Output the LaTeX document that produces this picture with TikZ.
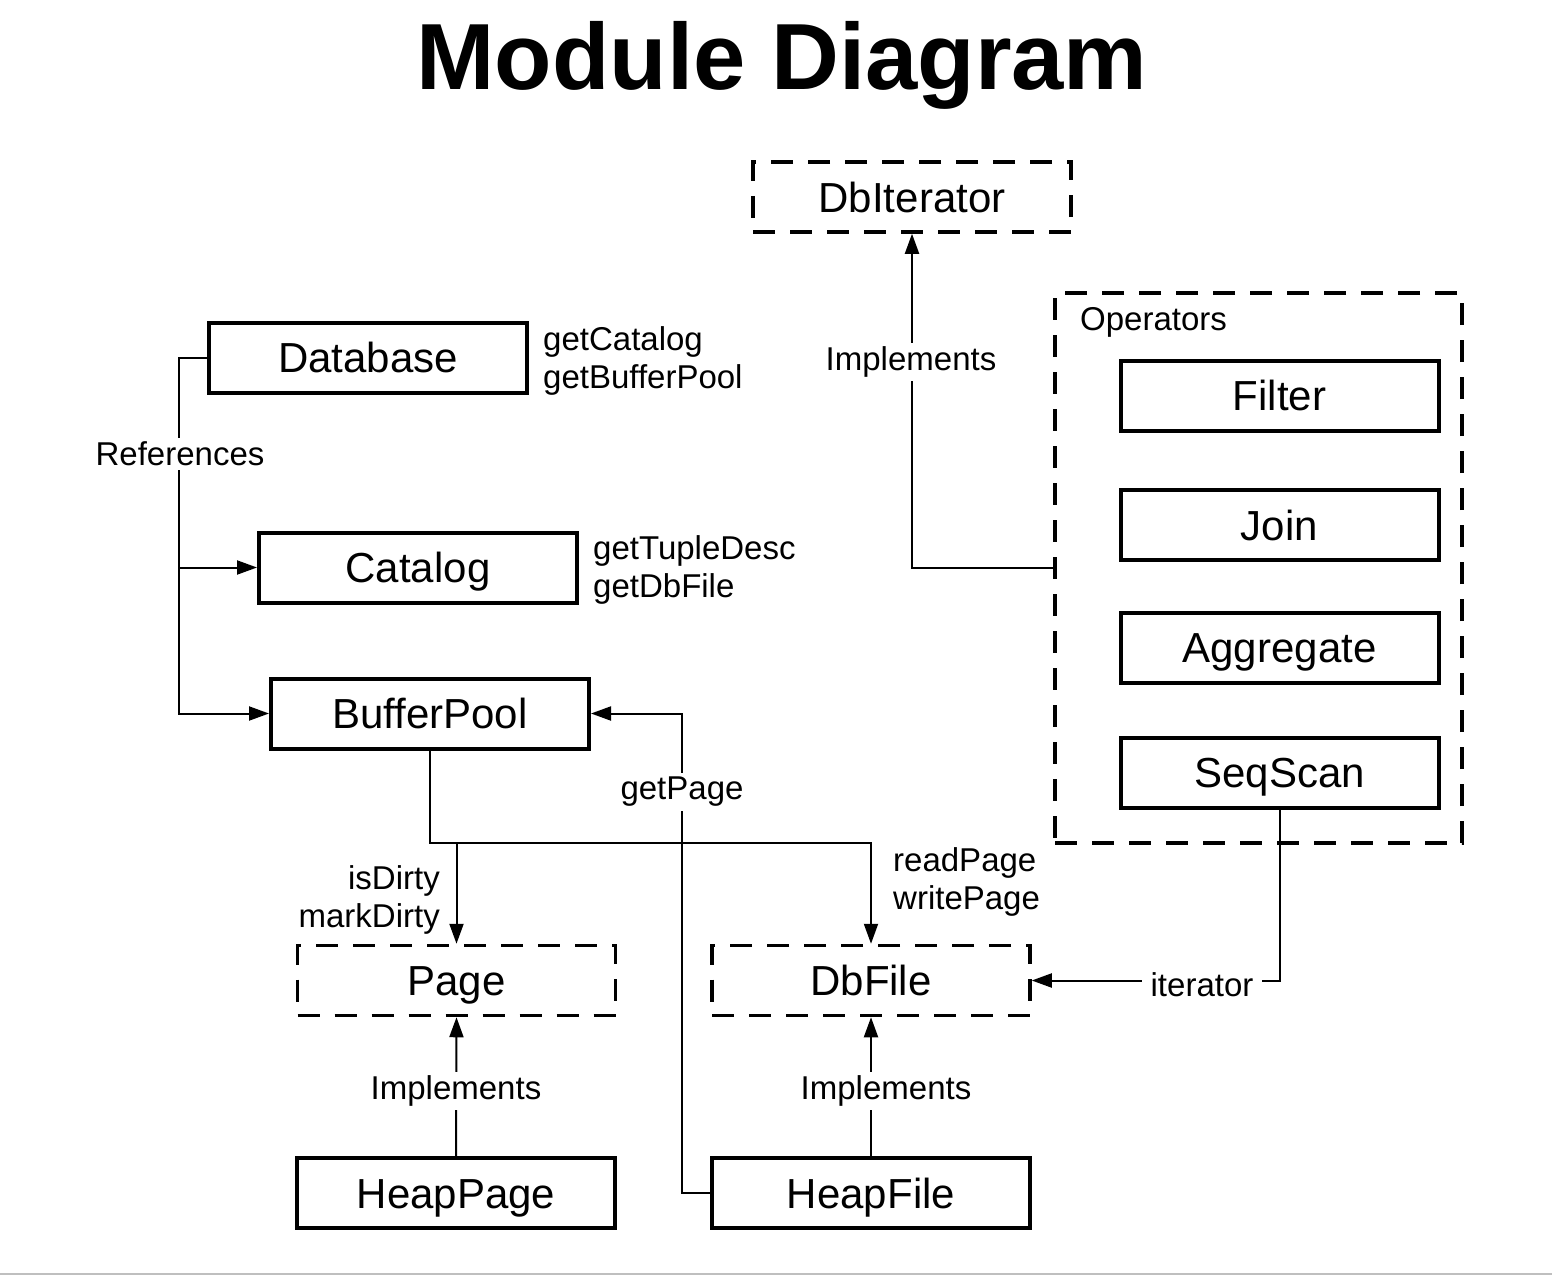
\documentclass[tikz,border=0pt]{standalone}
\usepackage{fontspec}
\setmainfont{Liberation Sans}
\usetikzlibrary{arrows.meta,calc}
\begin{document}
\begin{tikzpicture}[x=1pt,y=-1pt,
  box/.style={draw,line width=4pt,minimum width=318pt,minimum height=70pt,inner sep=0pt,text height=30pt,text depth=0pt,font=\fontsize{42}{48}\selectfont},
  dbox/.style={box,line width=3.5pt,dash pattern=on 22pt off 15pt},
  lbl/.style={font=\fontsize{33}{38}\selectfont,inner sep=0pt,yshift=-3pt},
  cut/.style={lbl,fill=white,inner sep=4pt},
  conn/.style={line width=2pt},
  arr/.style={conn,-{Triangle[length=20pt,width=14pt]}}]
\useasboundingbox (0,0) rectangle (1552,1276);
\fill[white] (0,0) rectangle (1552,1276);
\draw[black!25,line width=2pt] (0,1274) -- (1552,1274);

% title
\node[font=\bfseries\fontsize{94}{100}\selectfont,inner sep=0pt,anchor=base] (title) at (782,90) {Module Diagram};

% nodes
\node[dbox] (dbi) at (912,197) {DbIterator};
\node[dbox,minimum width=407pt,minimum height=550pt] (ops) at (1258.5,568) {};
\node[lbl,anchor=west] (opslbl) at (1080,319) {Operators};
\node[box] (filter) at (1279.5,395.5) {Filter};
\node[box] (join) at (1279.5,525) {Join};
\node[box] (agg) at (1279.5,647.5) {Aggregate};
\node[box] (ss) at (1279.5,772.5) {SeqScan};

\node[box] (db) at (368,357.5) {Database};
\node[box] (cat) at (418,567.5) {Catalog};
\node[box] (bp) at (430,713.5) {BufferPool};

\node[dbox] (pg) at (456.5,980.5) {Page};
\node[dbox] (dbf) at (871,980.5) {DbFile};
\node[box] (hp) at (456,1193) {HeapPage};
\node[box] (hf) at (871,1193) {HeapFile};

% method labels
\node[lbl,anchor=west,align=left] (dbm) at (543,358) {getCatalog\\getBufferPool};
\node[lbl,anchor=west,align=left] (catm) at (593,567) {getTupleDesc\\getDbFile};
\node[lbl,anchor=east,align=right] (pgm) at (440,897) {isDirty\\markDirty};
\node[lbl,anchor=west,align=left] (dbfm) at (893,879) {readPage\\writePage};

% connectors
\coordinate (refx) at ($(db.west)+(-28,0)$);
\draw[arr] (db.west) -- (refx) |- (bp.west);
\draw[arr] (refx) |- (cat.west);
\node[cut] (refs) at (180,451) {References};

\draw[arr] (ops.west) -| (dbi.south);
\node[cut] (impl1) at (911,359) {Implements};

\coordinate (bus) at (0,843);
\draw[arr] (bp.south) |- (bus -| dbf.north) -- (dbf.north);
\draw[arr] (bus -| pg.north) -- (pg.north);

\draw[arr] (hf.west) -- ++(-28,0) |- (bp.east);
\node[cut] (gp) at (682,789) {getPage};

\draw[arr] (ss.south) |- (dbf.east);
\node[cut,inner xsep=9pt] (it) at (1202,982) {iterator};

\draw[arr] (hp.north) -- (pg.south);
\node[cut] (impl2) at (456,1088) {Implements};
\draw[arr] (hf.north) -- (dbf.south);
\node[cut] (impl3) at (886,1088) {Implements};
\end{tikzpicture}
\end{document}
